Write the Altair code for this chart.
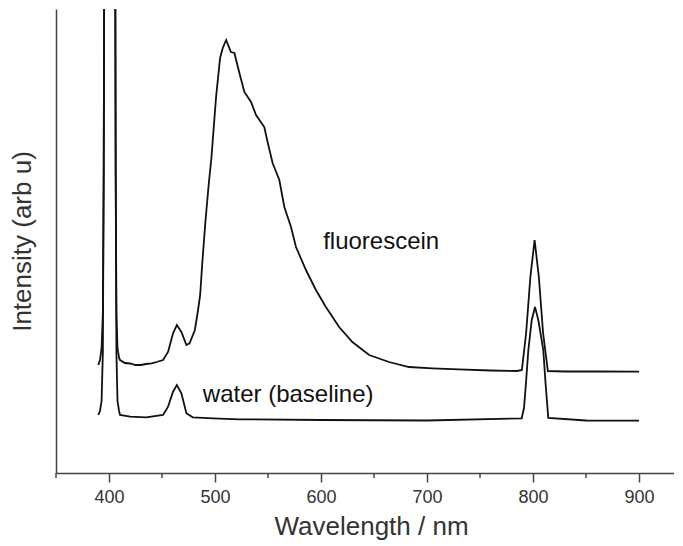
import altair as alt
import pandas as pd

# ---- data ----
fluor_nm = [389.9, 391.5, 393, 394.2, 395, 396, 400, 405.5, 406.3, 407, 408, 409.5, 410.4,
            415, 420, 425, 430, 435, 440, 445, 451, 455.7, 460.4, 464, 468.3, 473, 476,
            481, 484, 486, 488, 491, 494, 496.6, 501, 504.8, 507.3, 510.5, 515, 518.3,
            523, 527.7, 534, 538.7, 546.5, 549.6, 554.4, 560.7, 565.4, 571.7, 576.4,
            585.8, 595.2, 604.6, 617.1, 629.6, 645.4, 664.2, 683, 705, 730, 760, 785,
            789.5, 793.5, 797.5, 801.5, 805.5, 809.5, 814, 830, 860, 900]
fluor_int = [108, 113, 125, 160, 300, 700, 1500, 700, 300, 160, 125, 115, 113,
             110, 109.5, 108, 108, 109, 109.7, 111, 113, 121, 139.7, 148, 141, 128, 129.7,
             143, 163, 178, 210, 252, 288, 315, 376, 415, 425, 433, 421, 420,
             400, 381, 371, 358, 346, 331, 309.7, 293, 266, 246, 226,
             203, 183, 166, 146, 131, 118, 111, 106, 104.7, 103.7, 102.5, 102,
             103, 140, 196, 233, 196, 140, 102, 101.5, 101.5, 101.3]

water_nm = [389.9, 391.5, 393, 394.2, 395, 396, 400, 405.5, 406.3, 407, 408, 409.5, 410.4,
            420, 435, 451, 455.7, 460.4, 464, 468.3, 473, 479, 498, 523, 600, 700,
            789.3, 791.5, 793.5, 795.6, 798.8, 801.9, 805, 809.7, 811.8, 814.4, 850, 900]
water_int = [58, 62, 72, 120, 300, 700, 1500, 700, 300, 120, 72, 62, 58,
             56.3, 55.7, 58, 66.3, 81.3, 88, 79.7, 59.7, 55.7, 54.7, 53.7, 53, 52.5,
             54.7, 65, 92, 123, 153, 166, 153, 123, 90, 55, 52.5, 52.3]

major_ticks = [400, 500, 600, 700, 800, 900]
minor_ticks = [350, 450, 550, 650, 750, 850]

label_text = ["fluorescein", "water (baseline)"]
label_nm = [602, 488.5]
label_int = [224, 71]

FONT = "Liberation Sans"
AXC = "#444444"

df = pd.concat([
    pd.DataFrame({"nm": fluor_nm, "I": fluor_int, "s": "fluorescein"}),
    pd.DataFrame({"nm": water_nm, "I": water_int, "s": "water"}),
])
minor_df = pd.DataFrame({"nm": minor_ticks})
lab_df = pd.DataFrame({"nm": label_nm, "I": label_int, "t": label_text})

xscale = alt.Scale(domain=[350, 933], nice=False, zero=False)
yscale = alt.Scale(domain=[0, 464], nice=False, zero=False)

xaxis = alt.Axis(values=major_ticks, tickSize=9, tickWidth=1.5, tickColor=AXC,
                 domainWidth=1.5, domainColor=AXC, grid=False,
                 labelFontSize=18, labelFont=FONT, labelColor="#333333",
                 labelPadding=6, labelFlush=False, labelOverlap=False,
                 title="Wavelength / nm", titleFont=FONT, titleFontSize=26,
                 titleFontWeight="normal", titleColor="#333333",
                 titleX=315, titleY=61, titleBaseline="alphabetic", titleAlign="center")
yaxis = alt.Axis(labels=False, ticks=False, grid=False, domainWidth=1.5, domainColor=AXC,
                 title="Intensity (arb u)", titleFont=FONT, titleFontSize=26,
                 titleFontWeight="normal", titleColor="#333333",
                 titleX=-26, titleY=232, titleAngle=270,
                 titleBaseline="alphabetic", titleAlign="center")

lines = alt.Chart(df).mark_line(color="#111111", strokeWidth=1.8, clip=True).encode(
    x=alt.X("nm:Q", scale=xscale, axis=xaxis),
    y=alt.Y("I:Q", scale=yscale, axis=yaxis),
    detail="s:N",
)

minor = alt.Chart(minor_df).mark_rule(color=AXC, strokeWidth=1.5).encode(
    x=alt.X("nm:Q", scale=xscale),
    y=alt.value(464),
    y2=alt.value(469),
)

texts = alt.Chart(lab_df).mark_text(align="left", baseline="alphabetic", fontSize=24,
                                    font=FONT, color="#111111").encode(
    x=alt.X("nm:Q", scale=xscale),
    y=alt.Y("I:Q", scale=yscale),
    text="t:N",
)

chart = alt.layer(lines, minor, texts).properties(
    width=618, height=464,
    autosize=alt.AutoSizeParams(type="none"),
    padding={"left": 48, "top": 1, "right": 0, "bottom": 70},
).configure_view(stroke=None)

chart.save("out.html", embed_options={"renderer": "svg", "actions": False})
